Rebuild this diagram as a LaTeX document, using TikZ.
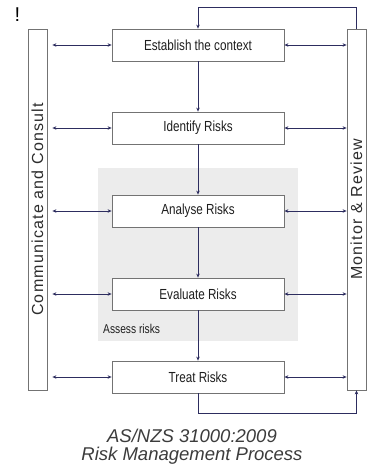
\documentclass[tikz,border=0pt]{standalone}
\usepackage{fontspec}
\setmainfont{Liberation Sans}
\newfontfamily\narrowfont[FakeStretch=0.8]{Liberation Sans}
\newfontfamily\spacedfont[LetterSpace=7.5]{Liberation Sans}
\usetikzlibrary{arrows.meta}

\definecolor{linkblue}{RGB}{45,45,95}
\definecolor{boxgray}{RGB}{115,115,115}
\definecolor{boxtext}{RGB}{30,30,30}
\definecolor{bartext}{RGB}{45,45,45}
\definecolor{regiongray}{RGB}{236,236,236}
\definecolor{captiongray}{RGB}{60,60,60}

\begin{document}
\begin{tikzpicture}[x=10pt, y=-10pt,
    procbox/.style={rectangle, draw=boxgray, fill=white, line width=0.8pt,
                    minimum width=172pt, minimum height=32pt, inner sep=0pt,
                    font=\narrowfont\fontsize{14.6}{16}\selectfont, text=boxtext},
    bar/.style={rectangle, draw=boxgray, fill=white, line width=0.8pt,
                minimum width=19pt, minimum height=361pt, inner sep=0pt},
    bartxt/.style={rotate=90, inner sep=0pt, text=bartext,
                   font=\spacedfont\fontsize{16}{18}\selectfont},
    region/.style={rectangle, fill=regiongray, inner sep=0pt,
                   minimum width=200pt, minimum height=173pt},
    arr/.style={-{Stealth[length=4pt,width=3.5pt]}, linkblue, line width=0.8pt},
    dbl/.style={{Stealth[length=4pt,width=3.5pt]}-{Stealth[length=4pt,width=3.5pt]},
                linkblue, line width=0.8pt},
    caption/.style={anchor=base, text=captiongray,
                    font=\itshape\fontsize{18.5}{20}\selectfont},
  ]

  \fill[white] (0,0) rectangle (37.2,47.2);
  \useasboundingbox (0,0) rectangle (37.2,47.2);

  % Assessment area behind the middle steps
  \node[region] (assess) at (19.8, 25.45) {};
  \node[anchor=west, inner sep=0pt, text=boxtext,
        font=\narrowfont\fontsize{12.8}{14}\selectfont]
    (assesslbl) at (10.3, 32.9) {Assess risks};

  % Side bars
  \node[bar] (cc) at (3.75, 20.95) {};
  \node[bartxt] (cctxt) at (cc) {Communicate and Consult};
  \node[bar] (mr) at (35.65, 20.95) {};
  \node[bartxt] (mrtxt) at (mr) {Monitor \& Review};

  % Process steps
  \node[procbox] (est) at (19.8,  4.5) {Establish the context};
  \node[procbox] (idr) at (19.8, 12.8) {Identify Risks};
  \node[procbox] (anr) at (19.8, 21.1) {Analyse Risks};
  \node[procbox] (evr) at (19.8, 29.4) {Evaluate Risks};
  \node[procbox] (trr) at (19.8, 37.7) {Treat Risks};

  % Main flow
  \draw[arr] (est) -- (idr);
  \draw[arr] (idr) -- (anr);
  \draw[arr] (anr) -- (evr);
  \draw[arr] (evr) -- (trr);

  % Links to communicate and consult
  \draw[dbl, shorten <=5pt] (cc.east |- est) -- (est.west);
  \draw[dbl, shorten <=5pt] (cc.east |- idr) -- (idr.west);
  \draw[dbl, shorten <=5pt] (cc.east |- anr) -- (anr.west);
  \draw[dbl, shorten <=5pt] (cc.east |- evr) -- (evr.west);
  \draw[dbl, shorten <=5pt] (cc.east |- trr) -- (trr.west);

  % Links to monitor and review
  \draw[dbl] (est.east) -- (mr.west |- est);
  \draw[dbl] (idr.east) -- (mr.west |- idr);
  \draw[dbl] (anr.east) -- (mr.west |- anr);
  \draw[dbl] (evr.east) -- (mr.west |- evr);
  \draw[dbl] (trr.east) -- (mr.west |- trr);

  % Loops back through monitoring
  \draw[arr] (mr.north) -- ++(0,-2.1) -| (est.north);
  \draw[arr] (trr.south) -- ++(0,2.0) -| (mr.south);

  \node[inner sep=0pt, font=\fontsize{20}{22}\selectfont] (bang) at (1.75, 1.5) {!};

  % Caption
  \node[caption] (cap1) at (19.2, 44.2) {AS/NZS 31000:2009};
  \node[caption] (cap2) at (19.2, 46.0) {Risk Management Process};

\end{tikzpicture}
\end{document}
